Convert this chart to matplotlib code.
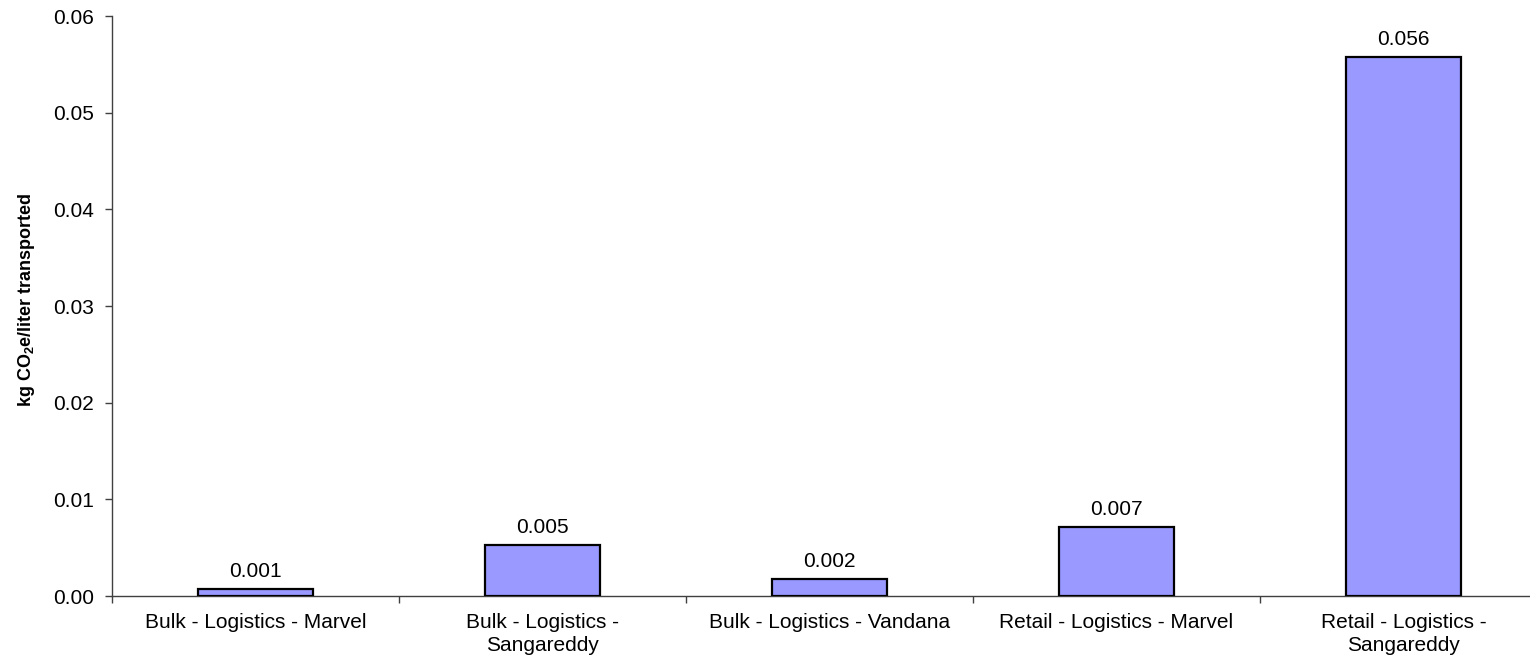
import matplotlib
matplotlib.use("Agg")
import matplotlib.pyplot as plt
from matplotlib.ticker import FormatStrFormatter, FixedLocator, NullFormatter

plt.rcParams['font.family'] = ['Liberation Sans', 'DejaVu Sans']
plt.rcParams['mathtext.fontset'] = 'custom'
plt.rcParams['mathtext.rm'] = 'Liberation Sans'
plt.rcParams['mathtext.bf'] = 'Liberation Sans:bold'

categories = [
    "Bulk - Logistics - Marvel",
    "Bulk - Logistics -\nSangareddy",
    "Bulk - Logistics - Vandana",
    "Retail - Logistics - Marvel",
    "Retail - Logistics -\nSangareddy",
]
emissions = [0.00072, 0.00528, 0.00176, 0.00714, 0.0558]
y_ticks = [0.00, 0.01, 0.02, 0.03, 0.04, 0.05, 0.06]

FS = 15

fig = plt.figure(figsize=(15.3, 6.56), dpi=100)
ax = fig.add_axes([112 / 1530, 1 - 596 / 656, (1547 - 112) / 1530, (596 - 16) / 656])

x = list(range(len(categories)))
ax.bar(x, emissions, width=0.4, color="#9999FF", edgecolor="black", linewidth=1.6, zorder=3)

for xi, v in zip(x, emissions):
    ax.annotate(f"{v:.3f}", (xi, v), xytext=(0, 8), textcoords="offset pixels",
                ha="center", va="bottom", fontsize=FS)

ax.set_xlim(-0.5, len(categories) - 0.5)
ax.set_ylim(0, 0.06)
ax.set_yticks(y_ticks)
ax.yaxis.set_major_formatter(FormatStrFormatter("%.2f"))

# category labels centred, ticks on category boundaries
ax.set_xticks(x)
ax.set_xticklabels(categories, fontsize=FS, linespacing=1.3)
ax.tick_params(axis="x", which="major", length=0, pad=12)
ax.xaxis.set_minor_locator(FixedLocator([i - 0.5 for i in range(len(categories) + 1)]))
ax.xaxis.set_minor_formatter(NullFormatter())
ax.tick_params(axis="x", which="minor", length=5, direction="out", color="#404040", width=1)
ax.tick_params(axis="y", length=5, direction="out", color="#404040", width=1, labelsize=FS, pad=8)

for s in ("top", "right"):
    ax.spines[s].set_visible(False)
for s in ("left", "bottom"):
    ax.spines[s].set_color("#404040")
    ax.spines[s].set_linewidth(1.0)

ax.set_ylabel(r"kg CO$_{\mathbf{2}}$e/liter transported", fontsize=13, fontweight="bold")
ax.yaxis.set_label_coords((37 - 112) / 1435, (596 - 300) / 580)

fig.savefig("out.png", dpi=100)
